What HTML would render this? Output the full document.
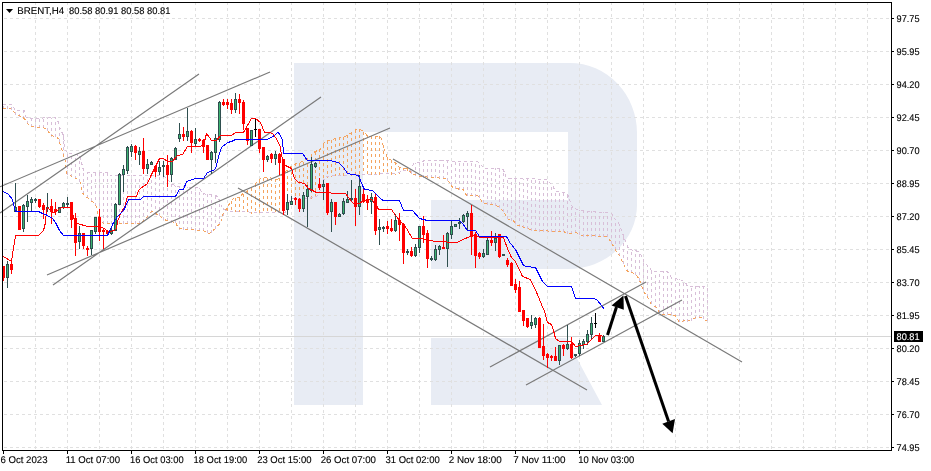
<!DOCTYPE html>
<html><head><meta charset="utf-8"><title>BRENT,H4</title>
<style>html,body{margin:0;padding:0;background:#fff;width:931px;height:471px;overflow:hidden}svg{display:block}</style>
</head><body>
<svg width="931" height="471" viewBox="0 0 931 471" shape-rendering="crispEdges">
<g fill="#e8ecf4">
<path d="M294 63 H570 A67 70 0 0 1 637 133 V205 A69 64 0 0 1 568 269 H431 V200 H568 V132 H363 V405 H294 Z" shape-rendering="geometricPrecision"/>
<path d="M431 338 H566 L602 405 H431 Z" shape-rendering="geometricPrecision"/>
</g>
<path d="M4 18.5H891M4 51.5H891M4 84.5H891M4 117.5H891M4 150.5H891M4 183.5H891M4 216.5H891M4 249.5H891M4 282.5H891M4 315.5H891M4 348.5H891M4 381.5H891M4 414.5H891M4 447.5H891M35.5 2V450M67.5 2V450M99.5 2V450M131.5 2V450M163.5 2V450M195.5 2V450M227.5 2V450M259.5 2V450M291.5 2V450M323.5 2V450M355.5 2V450M387.5 2V450M419.5 2V450M451.5 2V450M483.5 2V450M515.5 2V450M547.5 2V450M579.5 2V450M611.5 2V450M643.5 2V450M675.5 2V450M707.5 2V450M739.5 2V450M771.5 2V450M803.5 2V450M835.5 2V450M867.5 2V450" stroke="#e0e0e0" stroke-width="1" stroke-dasharray="3 3" fill="none"/>
<path d="M227.5 208V212M231.5 201V212M235.5 198V212M239.5 198V212M243.5 194V212M247.5 191V212M251.5 188V214M255.5 184V214M259.5 180V214M263.5 178V214M267.5 178V214M271.5 178V214M275.5 179V214M279.5 178V213M283.5 174V213M287.5 170V208M291.5 166V199M295.5 163V199M299.5 163V199M303.5 162V199M307.5 158V199M311.5 154V199M315.5 152V198M319.5 149V193M323.5 145V183M327.5 141V178M331.5 140V177M335.5 138V176M339.5 137V176M343.5 137V176M347.5 135V176M351.5 132V176M355.5 130V175M359.5 129V175M363.5 132V175M367.5 135V175M371.5 136V175M375.5 136V175M379.5 136V175M383.5 145V175M387.5 157V175M391.5 160V175M395.5 162V175M399.5 167V174M403.5 168V172M407.5 168V172" stroke="#f4a460" stroke-dasharray="3 3" fill="none"/>
<path d="M3.5 109V104M7.5 109V104M11.5 110V104M15.5 115V110M19.5 117V110M23.5 119V111M27.5 124V117M31.5 127V118M35.5 128V118M39.5 128V118M43.5 128V118M47.5 131V118M51.5 137V118M55.5 137V118M59.5 142V125M63.5 156V135M67.5 175V153M71.5 177V154M75.5 179V154M79.5 182V156M83.5 194V168M87.5 198V172M91.5 201V172M95.5 206V172M99.5 218V172M103.5 224V172M107.5 224V172M111.5 224V175M115.5 224V175M119.5 224V175M123.5 224V175M127.5 224V175M131.5 224V175M135.5 224V175M139.5 224V175M143.5 222V175M147.5 218V175M151.5 213V175M155.5 215V175M159.5 216V175M163.5 220V175M167.5 221V178M171.5 223V182M175.5 223V186M179.5 230V187M183.5 230V187M187.5 230V187M191.5 230V187M195.5 231V187M199.5 231V188M203.5 231V194M207.5 233V194M211.5 233V194M215.5 229V195M219.5 225V199M223.5 216V208M411.5 174V169M415.5 176V163M419.5 177V162M423.5 178V161M427.5 178V160M431.5 178V160M435.5 178V160M439.5 179V160M443.5 179V160M447.5 181V161M451.5 185V161M455.5 189V161M459.5 190V161M463.5 190V161M467.5 196V161M471.5 196V161M475.5 197V161M479.5 198V163M483.5 203V168M487.5 205V168M491.5 205V168M495.5 206V168M499.5 208V168M503.5 212V169M507.5 219V178M511.5 221V178M515.5 224V178M519.5 227V179M523.5 228V179M527.5 229V179M531.5 231V179M535.5 231V179M539.5 232V179M543.5 232V179M547.5 232V180M551.5 232V184M555.5 232V191M559.5 232V192M563.5 232V192M567.5 234V194M571.5 234V204M575.5 233V208M579.5 235V210M583.5 237V210M587.5 237V211M591.5 237V211M595.5 237V212M599.5 237V212M603.5 237V212M607.5 237V212M611.5 244V213M615.5 250V219M619.5 256V224M623.5 264V235M627.5 272V246M631.5 273V249M635.5 275V250M639.5 281V251M643.5 290V259M647.5 297V265M651.5 304V271M655.5 308V271M659.5 313V271M663.5 315V271M667.5 315V271M671.5 315V277M675.5 317V278M679.5 322V279M683.5 322V280M687.5 322V285M691.5 321V286M695.5 319V286M699.5 318V286M703.5 319V286M707.5 321V286" stroke="#d8bfd8" stroke-dasharray="3 3" fill="none"/>
<polyline points="2.5,108.5 10.5,108.5 12.5,110.5 15.5,113.5 20.5,116.5 24.5,118.5 26.5,122.5 30.5,126.5 43.5,127.5 48.5,131.5 50.5,135.5 55.5,136.5 57.5,137.5 59.5,141.5 60.5,145.5 61.5,147.5 63.5,156.5 65.5,161.5 65.5,167.5 66.5,173.5 70.5,175.5 72.5,177.5 76.5,178.5 80.5,182.5 81.5,190.5 83.5,194.5 88.5,198.5 93.5,202.5 97.5,208.5 97.5,213.5 100.5,220.5 103.5,223.5 140.5,223.5 147.5,216.5 151.5,211.5 155.5,213.5 159.5,215.5 162.5,218.5 166.5,220.5 170.5,221.5 175.5,222.5 178.5,228.5 202.5,230.5 209.5,233.5 216.5,227.5 220.5,222.5 223.5,212.5 227.5,207.5 230.5,201.5 233.5,198.5 240.5,197.5 242.5,193.5 247.5,190.5 252.5,187.5 256.5,182.5 260.5,178.5 264.5,177.5 269.5,177.5 272.5,178.5 277.5,179.5 290.5,166.5 295.5,163.5 302.5,161.5 310.5,155.5 313.5,152.5 321.5,148.5 323.5,143.5 327.5,140.5 332.5,139.5 337.5,137.5 345.5,136.5 351.5,132.5 355.5,129.5 360.5,129.5 365.5,133.5 367.5,136.5 380.5,136.5 383.5,146.5 387.5,158.5 392.5,160.5 396.5,163.5 399.5,167.5 407.5,168.5 411.5,173.5 420.5,176.5 445.5,178.5 448.5,181.5 453.5,188.5 463.5,189.5 466.5,195.5 477.5,195.5 480.5,199.5 483.5,203.5 493.5,204.5 498.5,206.5 503.5,211.5 506.5,216.5 508.5,219.5 513.5,220.5 515.5,224.5 521.5,226.5 527.5,228.5 532.5,230.5 563.5,231.5 567.5,233.5 576.5,232.5 581.5,235.5 607.5,236.5 608.5,238.5 611.5,242.5 614.5,248.5 617.5,253.5 620.5,256.5 622.5,262.5 625.5,267.5 627.5,271.5 632.5,272.5 637.5,276.5 640.5,282.5 643.5,291.5 647.5,296.5 650.5,303.5 656.5,307.5 660.5,314.5 672.5,314.5 676.5,316.5 678.5,321.5 688.5,320.5 696.5,317.5 701.5,317.5 705.5,320.5 707.5,320.5" stroke="#f4a460" stroke-dasharray="3 3" fill="none"/>
<polyline points="2.5,104.5 11.5,104.5 15.5,110.5 24.5,110.5 25.5,116.5 26.5,117.5 31.5,118.5 55.5,117.5 57.5,119.5 59.5,127.5 62.5,133.5 63.5,135.5 64.5,143.5 65.5,150.5 67.5,153.5 75.5,154.5 79.5,155.5 81.5,162.5 83.5,170.5 87.5,172.5 107.5,172.5 110.5,175.5 163.5,175.5 171.5,183.5 176.5,186.5 196.5,187.5 200.5,188.5 201.5,193.5 207.5,194.5 213.5,194.5 217.5,196.5 219.5,200.5 222.5,208.5 227.5,211.5 247.5,211.5 250.5,212.5 276.5,212.5 285.5,212.5 290.5,198.5 308.5,198.5 316.5,196.5 320.5,190.5 322.5,182.5 325.5,176.5 337.5,175.5 356.5,174.5 397.5,173.5 402.5,170.5 410.5,170.5 413.5,163.5 420.5,161.5 426.5,160.5 477.5,161.5 481.5,165.5 483.5,168.5 502.5,168.5 505.5,174.5 506.5,178.5 528.5,178.5 546.5,179.5 548.5,181.5 552.5,185.5 555.5,191.5 566.5,192.5 568.5,196.5 570.5,202.5 572.5,207.5 577.5,209.5 587.5,211.5 609.5,212.5 612.5,214.5 614.5,218.5 618.5,222.5 621.5,230.5 624.5,238.5 626.5,243.5 628.5,248.5 633.5,250.5 639.5,251.5 643.5,261.5 650.5,268.5 651.5,271.5 667.5,271.5 671.5,277.5 682.5,280.5 685.5,282.5 687.5,286.5 707.5,286.5" stroke="#d8bfd8" stroke-dasharray="3 3" fill="none"/>
<path d="M3 336.5H891" stroke="#d6d6d6"/>
<path d="M0 186.8L270 72M0 213L199 74M53 285L321 97M47 275L390 128M393 159L742 362M238 188L587 390M490 367L646 282M526 385L682 300" stroke="#7a7a7a" stroke-width="1.2" fill="none" shape-rendering="geometricPrecision"/>
<path d="M3.5 266V281M11.5 262V274M19.5 206V230M39.5 199V208M43.5 203V219M51.5 199V224M55.5 202V215M71.5 202V228M75.5 213V256M83.5 233V249M87.5 246V256M99.5 209V241M103.5 229V249M107.5 230V234M135.5 145V160M143.5 138V174M155.5 165V177M167.5 155V187M183.5 127V141M191.5 130V153M199.5 138V142M203.5 139V153M207.5 145V160M223.5 99V106M227.5 99V109M231.5 99V114M239.5 94V114M243.5 100V130M247.5 128V145M259.5 129V153M263.5 147V172M271.5 153V163M279.5 153V175M283.5 159V215M295.5 197V205M299.5 198V212M319.5 178V190M327.5 183V215M335.5 202V225M355.5 189V226M363.5 187V203M367.5 195V210M375.5 194V235M387.5 221V234M391.5 219V232M399.5 213V241M403.5 223V264M411.5 247V257M423.5 216V243M427.5 230V268M443.5 235V249M471.5 205V255M475.5 232V268M479.5 252V259M491.5 231V246M499.5 234V258M507.5 258V267M511.5 262V286M515.5 279V293M519.5 281V312M523.5 310V326M527.5 318V328M539.5 317V348M543.5 324V360M547.5 353V368M551.5 355V361M555.5 347V361M563.5 344V356M571.5 337V359M599.5 333V342" stroke="#ff0000" fill="none"/>
<path d="M7.5 261V288M15.5 183V212M23.5 204V232M27.5 195V222M31.5 197V212M35.5 198V203M47.5 193V212M59.5 207V213M63.5 202V209M67.5 197V208M79.5 226V249M91.5 230V255M95.5 217V234M111.5 226V235M115.5 203V231M119.5 173V205M123.5 165V192M127.5 146V174M131.5 144V157M139.5 147V165M147.5 159V174M151.5 161V165M159.5 161V175M163.5 161V177M171.5 157V182M175.5 147V160M179.5 123V142M187.5 108V141M195.5 128V147M211.5 151V174M215.5 134V163M219.5 101V142M235.5 93V113M251.5 130V146M267.5 155V162M275.5 151V165M287.5 194V215M291.5 196V205M303.5 192V212M307.5 185V227M311.5 157V192M315.5 162V168M323.5 180V200M331.5 199V232M339.5 213V217M343.5 198V215M347.5 191V203M351.5 180V201M359.5 175V215M371.5 193V214M379.5 219V245M383.5 226V232M395.5 214V232M407.5 249V255M415.5 244V257M419.5 226V253M431.5 256V261M435.5 245V261M439.5 245V255M447.5 232V267M451.5 220V239M455.5 224V227M459.5 218V229M463.5 214V223M467.5 211V230M483.5 249V258M487.5 237V255M495.5 233V251M531.5 315V329M535.5 317V328M559.5 345V365M567.5 325V350M575.5 354V357M579.5 340V356M583.5 339V349M587.5 330V345M591.5 317V339M603.5 335V342" stroke="#2f4f4f" fill="none"/>
<path d="M255.5 118V137M595.5 313V328" stroke="#000" fill="none"/>
<path d="M2 266h3v12h-3zM10 264h3v6h-3zM18 206h3v24h-3zM38 199h3v8h-3zM42 205h3v5h-3zM50 206h3v6h-3zM54 209h3v3h-3zM70 202h3v18h-3zM74 218h3v25h-3zM82 233h3v13h-3zM86 248h3v2h-3zM98 217h3v15h-3zM102 230h3v2h-3zM106 231h3v3h-3zM134 146h3v7h-3zM142 151h3v18h-3zM154 166h3v6h-3zM166 165h3v10h-3zM182 134h3v3h-3zM190 131h3v12h-3zM198 139h3v2h-3zM202 140h3v7h-3zM206 145h3v15h-3zM222 102h3v3h-3zM226 102h3v3h-3zM230 103h3v7h-3zM238 99h3v4h-3zM242 102h3v22h-3zM246 128h3v13h-3zM258 129h3v20h-3zM262 147h3v13h-3zM270 154h3v5h-3zM278 154h3v9h-3zM282 159h3v52h-3zM294 198h3v2h-3zM298 199h3v10h-3zM318 184h3v4h-3zM326 183h3v30h-3zM334 202h3v15h-3zM354 198h3v9h-3zM362 194h3v8h-3zM366 199h3v4h-3zM374 197h3v34h-3zM386 226h3v3h-3zM390 228h3v3h-3zM398 220h3v5h-3zM402 224h3v29h-3zM410 251h3v5h-3zM422 226h3v9h-3zM426 233h3v26h-3zM442 247h3v2h-3zM470 213h3v24h-3zM474 234h3v22h-3zM478 253h3v4h-3zM490 240h3v3h-3zM498 234h3v23h-3zM506 260h3v5h-3zM510 263h3v23h-3zM514 284h3v6h-3zM518 287h3v25h-3zM522 310h3v11h-3zM526 318h3v9h-3zM538 318h3v30h-3zM542 346h3v10h-3zM546 354h3v4h-3zM550 356h3v2h-3zM554 356h3v5h-3zM562 345h3v4h-3zM570 344h3v14h-3zM598 335h3v7h-3z" fill="#ff0000"/>
<path d="M6 264h3v14h-3zM14 207h3v5h-3zM22 205h3v24h-3zM26 201h3v6h-3zM30 199h3v4h-3zM34 199h3v2h-3zM46 207h3v2h-3zM58 207h3v6h-3zM62 203h3v5h-3zM66 203h3v2h-3zM78 233h3v9h-3zM90 230h3v19h-3zM94 217h3v15h-3zM110 230h3v4h-3zM114 204h3v27h-3zM118 174h3v31h-3zM122 169h3v6h-3zM126 147h3v24h-3zM130 146h3v6h-3zM138 151h3v4h-3zM146 164h3v5h-3zM150 162h3v3h-3zM158 167h3v5h-3zM162 165h3v2h-3zM170 158h3v17h-3zM174 148h3v12h-3zM178 134h3v5h-3zM186 131h3v6h-3zM194 139h3v5h-3zM210 152h3v8h-3zM214 138h3v15h-3zM218 102h3v38h-3zM234 99h3v11h-3zM250 130h3v16h-3zM266 156h3v4h-3zM274 154h3v5h-3zM286 202h3v8h-3zM290 201h3v4h-3zM302 195h3v14h-3zM306 189h3v8h-3zM310 164h3v27h-3zM314 163h3v4h-3zM322 184h3v3h-3zM330 202h3v10h-3zM338 214h3v3h-3zM342 201h3v13h-3zM346 199h3v4h-3zM350 198h3v2h-3zM358 186h3v21h-3zM370 197h3v5h-3zM378 227h3v3h-3zM382 227h3v2h-3zM394 220h3v11h-3zM406 251h3v2h-3zM414 247h3v9h-3zM418 226h3v22h-3zM430 258h3v2h-3zM434 249h3v11h-3zM438 246h3v4h-3zM446 233h3v16h-3zM450 226h3v9h-3zM454 224h3v3h-3zM458 222h3v2h-3zM462 215h3v7h-3zM466 213h3v4h-3zM482 253h3v4h-3zM486 240h3v15h-3zM494 238h3v5h-3zM502 254h3v2h-3zM530 322h3v4h-3zM534 318h3v7h-3zM558 345h3v16h-3zM566 344h3v5h-3zM574 354h3v2h-3zM578 343h3v11h-3zM582 341h3v4h-3zM586 334h3v8h-3zM590 323h3v12h-3zM602 336h3v6h-3z" fill="#2f4f4f"/>
<path d="M7 265h1v12h-1zM15 208h1v3h-1zM23 206h1v22h-1zM27 202h1v4h-1zM31 200h1v2h-1zM59 208h1v4h-1zM63 204h1v3h-1zM79 234h1v7h-1zM91 231h1v17h-1zM95 218h1v13h-1zM111 231h1v2h-1zM115 205h1v25h-1zM119 175h1v29h-1zM123 170h1v4h-1zM127 148h1v22h-1zM131 147h1v4h-1zM139 152h1v2h-1zM147 165h1v3h-1zM151 163h1v1h-1zM159 168h1v3h-1zM171 159h1v15h-1zM175 149h1v10h-1zM179 135h1v3h-1zM187 132h1v4h-1zM195 140h1v3h-1zM211 153h1v6h-1zM215 139h1v13h-1zM219 103h1v36h-1zM235 100h1v9h-1zM251 131h1v14h-1zM267 157h1v2h-1zM275 155h1v3h-1zM287 203h1v6h-1zM291 202h1v2h-1zM303 196h1v12h-1zM307 190h1v6h-1zM311 165h1v25h-1zM315 164h1v2h-1zM323 185h1v1h-1zM331 203h1v8h-1zM339 215h1v1h-1zM343 202h1v11h-1zM347 200h1v2h-1zM359 187h1v19h-1zM371 198h1v3h-1zM379 228h1v1h-1zM395 221h1v9h-1zM415 248h1v7h-1zM419 227h1v20h-1zM435 250h1v9h-1zM439 247h1v2h-1zM447 234h1v14h-1zM451 227h1v7h-1zM455 225h1v1h-1zM463 216h1v5h-1zM467 214h1v2h-1zM483 254h1v2h-1zM487 241h1v13h-1zM495 239h1v3h-1zM531 323h1v2h-1zM535 319h1v5h-1zM559 346h1v14h-1zM567 345h1v3h-1zM579 344h1v9h-1zM583 342h1v2h-1zM587 335h1v6h-1zM591 324h1v10h-1zM603 337h1v4h-1z" fill="#3cb371"/>
<path d="M254 129h3v1h-3zM594 323h3v1h-3z" fill="#000"/>
<polyline points="3.5,256.5 11.5,261.5 12.5,254.5 15.5,235.5 38.5,235.5 43.5,230.5 45.5,222.5 46.5,210.5 47.5,207.5 49.5,209.5 51.5,212.5 55.5,212.5 58.5,209.5 61.5,207.5 69.5,207.5 72.5,211.5 73.5,218.5 77.5,223.5 87.5,226.5 99.5,226.5 104.5,228.5 108.5,232.5 113.5,230.5 116.5,229.5 117.5,221.5 119.5,216.5 121.5,211.5 124.5,207.5 127.5,196.5 136.5,196.5 138.5,190.5 140.5,188.5 147.5,183.5 150.5,176.5 155.5,166.5 159.5,158.5 163.5,158.5 167.5,161.5 172.5,161.5 177.5,155.5 182.5,154.5 187.5,146.5 199.5,146.5 202.5,145.5 204.5,141.5 206.5,133.5 209.5,137.5 211.5,140.5 216.5,140.5 220.5,135.5 231.5,135.5 235.5,132.5 243.5,132.5 251.5,118.5 255.5,118.5 260.5,122.5 264.5,132.5 270.5,132.5 273.5,134.5 277.5,140.5 280.5,147.5 281.5,155.5 283.5,162.5 285.5,165.5 291.5,168.5 294.5,178.5 298.5,182.5 304.5,183.5 308.5,188.5 316.5,192.5 345.5,193.5 351.5,201.5 354.5,204.5 359.5,203.5 363.5,200.5 371.5,199.5 376.5,205.5 378.5,209.5 391.5,209.5 395.5,215.5 402.5,223.5 406.5,228.5 412.5,238.5 420.5,238.5 435.5,241.5 457.5,242.5 462.5,239.5 470.5,236.5 476.5,235.5 479.5,237.5 503.5,237.5 507.5,248.5 511.5,257.5 515.5,261.5 522.5,276.5 530.5,279.5 537.5,294.5 541.5,304.5 544.5,311.5 547.5,322.5 551.5,324.5 553.5,330.5 555.5,338.5 559.5,341.5 571.5,341.5 575.5,346.5 580.5,345.5 586.5,344.5 591.5,339.5 595.5,335.5 600.5,335.5 603.5,336.5" stroke="#ff0000" stroke-width="1" fill="none" shape-rendering="crispEdges" stroke-linejoin="round"/>
<polyline points="3.5,191.5 8.5,194.5 12.5,199.5 13.5,204.5 15.5,211.5 38.5,211.5 42.5,213.5 45.5,214.5 52.5,218.5 55.5,222.5 59.5,230.5 63.5,235.5 107.5,235.5 109.5,231.5 113.5,222.5 117.5,216.5 123.5,210.5 125.5,206.5 128.5,199.5 140.5,199.5 143.5,196.5 175.5,196.5 179.5,189.5 183.5,189.5 186.5,181.5 195.5,178.5 203.5,178.5 207.5,172.5 212.5,170.5 215.5,169.5 218.5,156.5 221.5,147.5 227.5,142.5 231.5,141.5 235.5,139.5 267.5,139.5 274.5,135.5 277.5,132.5 279.5,133.5 282.5,140.5 283.5,153.5 302.5,153.5 307.5,160.5 329.5,160.5 338.5,162.5 343.5,167.5 347.5,173.5 358.5,175.5 362.5,185.5 364.5,189.5 372.5,190.5 376.5,194.5 381.5,199.5 383.5,200.5 399.5,200.5 403.5,210.5 412.5,210.5 419.5,218.5 427.5,220.5 459.5,220.5 462.5,223.5 467.5,230.5 475.5,230.5 479.5,236.5 506.5,236.5 510.5,243.5 515.5,249.5 523.5,265.5 526.5,266.5 535.5,267.5 542.5,281.5 547.5,286.5 571.5,286.5 575.5,298.5 594.5,298.5 597.5,300.5 601.5,305.5 604.5,309.5" stroke="#0000ff" stroke-width="1" fill="none" shape-rendering="crispEdges" stroke-linejoin="round"/>
<g shape-rendering="geometricPrecision">
<path d="M607.5 335 L616.5 307" stroke="#000" stroke-width="3" fill="none"/>
<path d="M623.5 295.5 L611.5 305.5 L623.8 309.8 Z" fill="#000"/>
<path d="M625.5 296 L668.6 421.5" stroke="#000" stroke-width="3" fill="none"/>
<path d="M672.6 433.2 L662.3 423.8 L675 419 Z" fill="#000"/>
</g>
<path d="M2.5 2V451M2 2.5H892M891.5 2V451M2 450.5H892" stroke="#000" fill="none"/>
<path d="M892 18.5H894M892 51.5H894M892 84.5H894M892 117.5H894M892 150.5H894M892 183.5H894M892 216.5H894M892 249.5H894M892 282.5H894M892 315.5H894M892 348.5H894M892 381.5H894M892 414.5H894M892 447.5H894M3.5 451V454M67.5 451V454M131.5 451V454M195.5 451V454M259.5 451V454M323.5 451V454M387.5 451V454M451.5 451V454M515.5 451V454M579.5 451V454" stroke="#000" fill="none"/>
<rect x="894" y="331" width="29" height="11" fill="#000"/>
<g font-family="Liberation Sans, sans-serif" font-size="9.75px" fill="#000" stroke="#000" stroke-width="0.12" shape-rendering="auto" text-rendering="geometricPrecision">
<text x="896.6" y="22.3" textLength="23" lengthAdjust="spacingAndGlyphs">97.75</text>
<text x="896.6" y="55.3" textLength="23" lengthAdjust="spacingAndGlyphs">95.95</text>
<text x="896.6" y="88.3" textLength="23" lengthAdjust="spacingAndGlyphs">94.20</text>
<text x="896.6" y="121.3" textLength="23" lengthAdjust="spacingAndGlyphs">92.45</text>
<text x="896.6" y="154.3" textLength="23" lengthAdjust="spacingAndGlyphs">90.70</text>
<text x="896.6" y="187.3" textLength="23" lengthAdjust="spacingAndGlyphs">88.95</text>
<text x="896.6" y="220.3" textLength="23" lengthAdjust="spacingAndGlyphs">87.20</text>
<text x="896.6" y="253.3" textLength="23" lengthAdjust="spacingAndGlyphs">85.45</text>
<text x="896.6" y="286.3" textLength="23" lengthAdjust="spacingAndGlyphs">83.70</text>
<text x="896.6" y="319.3" textLength="23" lengthAdjust="spacingAndGlyphs">81.95</text>
<text x="896.6" y="352.3" textLength="23" lengthAdjust="spacingAndGlyphs">80.20</text>
<text x="896.6" y="385.3" textLength="23" lengthAdjust="spacingAndGlyphs">78.45</text>
<text x="896.6" y="418.3" textLength="23" lengthAdjust="spacingAndGlyphs">76.70</text>
<text x="896.6" y="451.3" textLength="23" lengthAdjust="spacingAndGlyphs">74.95</text>
<text x="896.6" y="340.2" fill="#fff" stroke="#fff" textLength="23" lengthAdjust="spacingAndGlyphs">80.81</text>
<text x="0.4" y="463" textLength="47.1" lengthAdjust="spacingAndGlyphs">6 Oct 2023</text>
<text x="65.7" y="463" textLength="54.3" lengthAdjust="spacingAndGlyphs">11 Oct 07:00</text>
<text x="130.1" y="463" textLength="53.5" lengthAdjust="spacingAndGlyphs">16 Oct 03:00</text>
<text x="193.6" y="463" textLength="53.6" lengthAdjust="spacingAndGlyphs">18 Oct 19:00</text>
<text x="257.2" y="463" textLength="54.3" lengthAdjust="spacingAndGlyphs">23 Oct 15:00</text>
<text x="320.7" y="463" textLength="55.3" lengthAdjust="spacingAndGlyphs">26 Oct 07:00</text>
<text x="385.6" y="463" textLength="54.2" lengthAdjust="spacingAndGlyphs">31 Oct 02:00</text>
<text x="448.7" y="463" textLength="53.1" lengthAdjust="spacingAndGlyphs">2 Nov 18:00</text>
<text x="513.2" y="463" textLength="52.4" lengthAdjust="spacingAndGlyphs">7 Nov 11:00</text>
<text x="578.3" y="463" textLength="56.0" lengthAdjust="spacingAndGlyphs">10 Nov 03:00</text>
<text x="17.2" y="14.3" textLength="47" lengthAdjust="spacingAndGlyphs">BRENT,H4</text>
<text x="69" y="14.3" textLength="101.5" lengthAdjust="spacingAndGlyphs">80.58 80.91 80.58 80.81</text>
</g>
<path d="M6 9H13L9.5 13Z" fill="#000" shape-rendering="geometricPrecision"/>
</svg>
</body></html>
